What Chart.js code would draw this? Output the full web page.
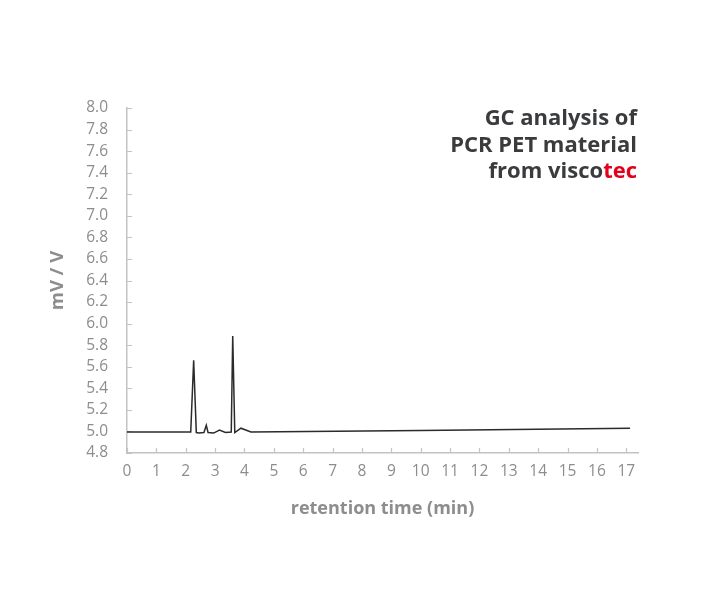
<!DOCTYPE html>
<html lang="en">
<head>
    <meta charset="UTF-8">
    <title>GC analysis of PCR PET material</title>
    <style>
        body {
            margin: 0;
            background: #fff;
            font-family: "Open Sans", Arial, sans-serif;
        }

        .wrap {
            position: relative;
            width: 710px;
            height: 600px;
        }

        .headline {
            position: absolute;
            right: 73px;
            top: 103px;
            text-align: right;
            font-size: 22px;
            font-weight: bold;
            line-height: 26.5px;
            color: #3a3b3d;
        }

        .headline span {
            color: #e2001a;
        }
    </style>
</head>
<body>
    <div class="wrap">
        <canvas id="gc-chart" width="710" height="600"></canvas>
        <div class="headline">GC analysis of<br>PCR PET material<br>from visco<span>tec</span></div>
    </div>

    <script src="https://cdn.jsdelivr.net/npm/chart.js"></script>
    <script>
        // chromatogram
        const retentionTimes = [0, 2.17, 2.27, 2.36, 2.45, 2.62, 2.70, 2.76, 2.95, 3.15, 3.35, 3.55, 3.60, 3.67, 3.88, 4.22, 10, 17.13];
        const signal = [4.995, 4.995, 5.66, 4.99, 4.985, 4.99, 5.057, 4.99, 4.985, 5.013, 4.99, 4.995, 5.885, 4.99, 5.03, 4.995, 5.008, 5.03];

        const xTicks = [0, 1, 2, 3, 4, 5, 6, 7, 8, 9, 10, 11, 12, 13, 14, 15, 16, 17];
        const xMin = 0, xMax = 17.4;
        const yMin = 4.8, yMax = 8.0, yStep = 0.2;

        const axisGrey = '#c3c3c3';
        const labelGrey = '#8d8d8d';

        // small tick marks pointing into the plot, drawn under the trace
        const innerTicks = {
            id: 'innerTicks',
            beforeDatasetsDraw(chart) {
                const ctx = chart.ctx;
                const x = chart.scales.x, y = chart.scales.y;
                const area = chart.chartArea;
                ctx.save();
                ctx.strokeStyle = axisGrey;
                ctx.lineWidth = 1.2;
                ctx.beginPath();
                x.ticks.forEach(t => {
                    const px = Math.round(x.getPixelForValue(t.value)) + 0.5;
                    ctx.moveTo(px, area.bottom);
                    ctx.lineTo(px, area.bottom - 5);
                });
                y.ticks.forEach(t => {
                    const py = Math.round(y.getPixelForValue(t.value)) + 0.5;
                    ctx.moveTo(area.left, py);
                    ctx.lineTo(area.left + 5, py);
                });
                ctx.stroke();
                ctx.restore();
            }
        };

        new Chart(document.getElementById('gc-chart'), {
            type: 'line',
            data: {
                datasets: [{
                    data: retentionTimes.map((t, i) => ({ x: t, y: signal[i] })),
                    borderColor: '#2b2b2b',
                    borderWidth: 1.5,
                    pointRadius: 0,
                    tension: 0,
                    fill: false
                }]
            },
            options: {
                responsive: false,
                animation: false,
                layout: {
                    padding: { top: 108, right: 72, bottom: 67, left: 0 }
                },
                plugins: {
                    legend: { display: false },
                    tooltip: { enabled: false }
                },
                scales: {
                    x: {
                        type: 'linear',
                        min: xMin,
                        max: xMax,
                        afterFit: s => { s.height = 80; },
                        afterBuildTicks: s => {
                            s.ticks = xTicks.map(v => ({ value: v }));
                        },
                        ticks: {
                            padding: 9,
                            color: labelGrey,
                            font: { family: 'Open Sans', size: 15.5 },
                            maxRotation: 0,
                            autoSkip: false
                        },
                        grid: { drawOnChartArea: false, drawTicks: false },
                        border: { color: axisGrey, width: 1.5 },
                        title: {
                            display: true,
                            text: 'retention time (min)',
                            color: labelGrey,
                            font: { family: 'Open Sans', size: 18, weight: 'bold' },
                            padding: { top: 0, bottom: 13 }
                        }
                    },
                    y: {
                        min: yMin,
                        max: yMax,
                        afterFit: s => { s.width = 127; },
                        ticks: {
                            stepSize: yStep,
                            padding: 19,
                            color: labelGrey,
                            font: { family: 'Open Sans', size: 15.5 },
                            autoSkip: false,
                            callback: v => v.toFixed(1)
                        },
                        grid: { drawOnChartArea: false, drawTicks: false },
                        border: { color: axisGrey, width: 1.5 },
                        title: {
                            display: true,
                            text: 'mV / V',
                            color: labelGrey,
                            font: { family: 'Open Sans', size: 18.5, weight: 'bold' },
                            padding: { top: 47, bottom: 0 }
                        }
                    }
                }
            },
            plugins: [innerTicks]
        });
    </script>
</body>
</html>
